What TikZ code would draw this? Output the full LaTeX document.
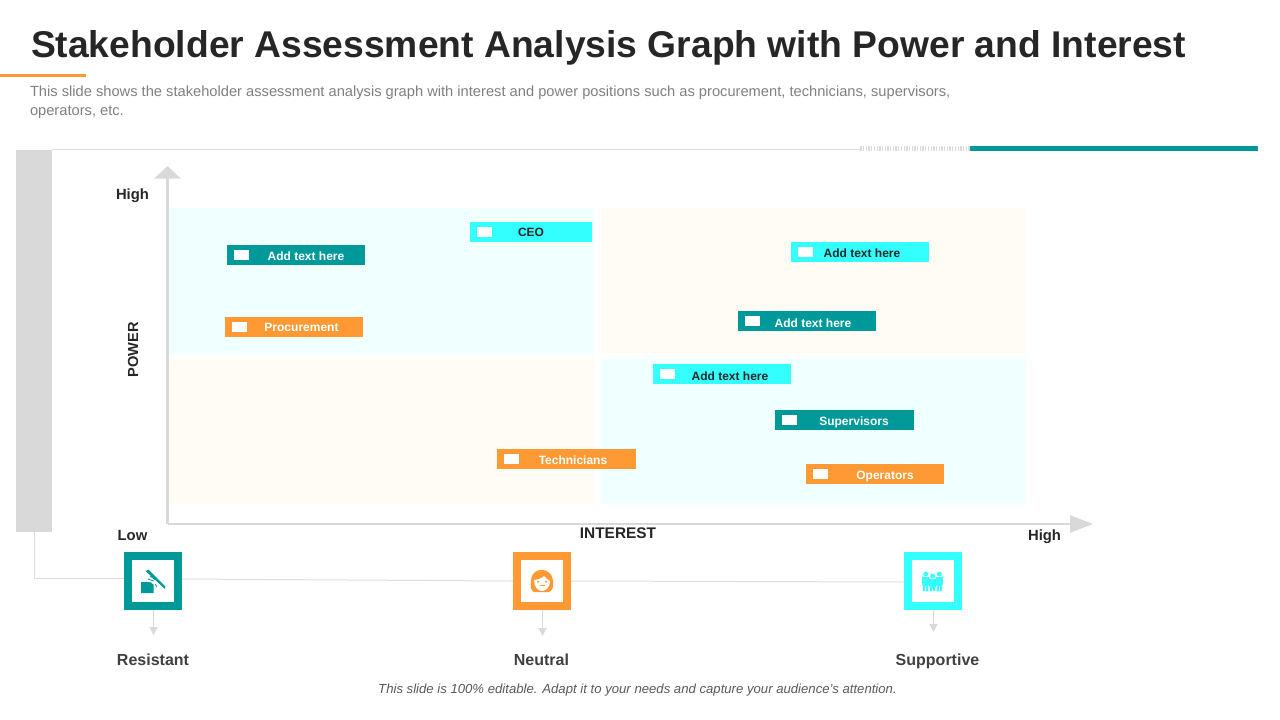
\documentclass[tikz,border=0pt]{standalone}
\usepackage{fontspec}
\setmainfont{Liberation Sans}
\usetikzlibrary{arrows.meta}
\definecolor{teal1}{HTML}{009999}
\definecolor{cyan1}{HTML}{33FFFF}
\definecolor{orange1}{HTML}{FF9933}
\definecolor{axisgray}{HTML}{D9D9D9}
\definecolor{linegray}{HTML}{DEDEDE}
\definecolor{paleblue}{HTML}{F0FFFF}
\definecolor{palecream}{HTML}{FFFBF5}
\definecolor{darktxt}{HTML}{262626}
\newcommand{\fs}[1]{\fontsize{#1}{#1}\selectfont}
\tikzset{
  plain/.style={inner sep=0pt,outer sep=0pt},
  quad/.style={plain,anchor=north west},
  band/.style={plain,anchor=north west,minimum height=20pt},
  swatch/.style={plain,fill=white,minimum width=14.5pt,minimum height=10pt},
  bartext/.style={plain,anchor=base,font=\fs{12}\bfseries},
  axislabel/.style={plain,anchor=base,font=\fs{14.8}\bfseries,text=darktxt},
  stance/.style={plain,anchor=base,font=\fs{16}\bfseries,text=black!75},
  iconbox/.style={plain,anchor=north west,minimum width=50pt,minimum height=50pt,fill=white,line width=8pt,outer sep=4pt},
  conn/.style={draw=linegray,line width=1pt},
  down/.style={draw=axisgray,line width=1.2pt,-{Triangle[length=8pt,width=8pt]}},
}
% name, left x, top y, width, colour, text colour, text x, text baseline y, text
\newcommand{\tagbar}[9]{%
  \node[band,fill=#5,minimum width=#4pt] (#1) at (#2,#3) {};
  \node[swatch] (#1s) at (#2+14.5,#3+10) {};
  \node[bartext,text=#6] (#1t) at (#7,#8) {#9};
}
\begin{document}
\begin{tikzpicture}[x=1pt,y=-1pt]
\useasboundingbox (0,0) rectangle (1280,720);
% title
\node[plain,anchor=base west,font=\fs{37.25}\bfseries,text=darktxt] (title) at (31,57) {Stakeholder Assessment Analysis Graph with Power and Interest};
\fill[orange1] (0,74) rectangle (86,76.5);
\node[plain,anchor=base west,font=\fs{14.68},text=black!50] (sub1) at (30,96.5) {This slide shows the stakeholder assessment analysis graph with interest and power positions such as procurement, technicians, supervisors,};
\node[plain,anchor=base west,font=\fs{14.68},text=black!50] (sub2) at (30,115.5) {operators, etc.};
% top rule
\draw[linegray,line width=1pt] (52,149.5) -- (860,149.5);
\foreach \x in {861,863.7,...,969} \draw[axisgray,line width=1.3pt] (\x,146) -- (\x,151);
\fill[teal1] (970,146) rectangle (1258,151);
% side bar
\node[plain,anchor=north west,fill=axisgray,minimum width=36pt,minimum height=382pt] (side) at (16,150) {};
% quadrants
\node[quad,fill=paleblue,minimum width=426pt,minimum height=146pt] (q1) at (168,208) {};
\node[quad,fill=palecream,minimum width=425pt,minimum height=146pt] (q2) at (601,208) {};
\node[quad,fill=palecream,minimum width=426pt,minimum height=145pt] (q3) at (168,359) {};
\node[quad,fill=paleblue,minimum width=425pt,minimum height=145pt] (q4) at (601,359) {};
% axes
\coordinate (origin) at (167.5,524);
\coordinate (ytip) at (167.5,166);
\coordinate (xtip) at (1093,524);
\draw[axisgray,line width=2.5pt,-{Triangle[length=12.5pt,width=26pt]}] (origin) -- (ytip);
\draw[axisgray,line width=2.5pt,-{Triangle[length=23pt,width=17pt]}] (origin) -- (xtip);
\node[axislabel] (yhigh) at (132.5,199.5) {High};
\node[axislabel] (ylow) at (132.5,540) {Low};
\node[axislabel] (xhigh) at (1044.5,540) {High};
\node[axislabel,font=\fs{15.4}\bfseries] (xlab) at (618,538) {INTEREST};
\node[plain,font=\fs{14.6}\bfseries,text=darktxt,rotate=90] (ylab) at (133,350) {POWER};
% bars
\tagbar{b1}{227}{245}{138}{teal1}{white}{306}{260}{Add text here}
\tagbar{b2}{470}{222}{122}{cyan1}{darktxt}{531}{236}{CEO}
\tagbar{b3}{225}{317}{138}{orange1}{white}{301.5}{331}{Procurement}
\tagbar{b4}{791}{242}{138}{cyan1}{darktxt}{862}{257}{Add text here}
\tagbar{b5}{738}{311}{138}{teal1}{white}{813}{327}{Add text here}
\tagbar{b6}{653}{364}{138}{cyan1}{darktxt}{730}{380}{Add text here}
\tagbar{b7}{775}{410}{139}{teal1}{white}{854}{425}{Supervisors}
\tagbar{b8}{497}{449}{139}{orange1}{white}{573}{464}{Technicians}
\tagbar{b9}{806}{464}{138}{orange1}{white}{885}{479}{Operators}
% icon boxes
\node[iconbox,draw=teal1] (i1) at (124,552) {};
\node[iconbox,draw=orange1] (i2) at (513,552) {};
\node[iconbox,draw=cyan1] (i3) at (904,552) {};
% connectors
\coordinate (corner) at (side.south |- 0,578);
\draw[conn] (side.south) -- (corner) -- (i1.west |- corner);
\draw[conn] (i1.east |- 0,579) -- (i2.west |- 0,581);
\draw[conn] (i2.east |- 0,581) -- (i3.west |- 0,582);
\coordinate (d1) at (153.5,635);
\coordinate (d2) at (542.5,636);
\coordinate (d3) at (933.5,632);
\draw[down] (d1 |- i1.south) -- (d1);
\draw[down] (d2 |- i2.south) -- (d2);
\draw[down] (d3 |- i3.south) -- (d3);
% icon 1: tool and block
\fill[teal1] (141,582) -- (150,582) -- (153.5,584.5) -- (153.5,593) -- (141,593) -- cycle;
\fill[teal1] (145.5,571) -- (148.5,569.5) -- (165,586) -- (165,589) -- cycle;
\draw[teal1,line width=.8pt] (148,579) -- (154,581) (150,576) -- (155,579.5) (155,584) -- (157,587);
% icon 2: face
\fill[orange1] (541.5,570) .. controls (550,570) and (553,577) .. (553,581) .. controls (554,587) and (552,591) .. (549,592) -- (534,592) .. controls (531,591) and (530,586) .. (531,581) .. controls (531,576) and (534,570) .. (541.5,570) -- cycle;
\fill[white] (534,580) .. controls (538,580) and (542,578) .. (544,576) .. controls (546,578) and (548,580) .. (550,581) .. controls (550,587) and (546,591) .. (542,591) .. controls (538,591) and (534,587) .. (534,580) -- cycle;
\fill[orange1] (538,581.7) circle (1.1pt) (546,581.7) circle (1.1pt);
\draw[orange1,line width=.9pt] (539.5,585.5) -- (544.5,585.5);
% icon 3: people
\foreach \px/\py in {925.7/0,932.7/2,939.3/0}{
  \fill[cyan1] (\px,574+\py) circle (2.4pt);
  \fill[cyan1] (\px-3.8,577+\py) -- (\px+3.8,577+\py) -- (\px+3.4,585+\py) -- (\px+2.6,585+\py) -- (\px+2.6,591) -- (\px+.5,591) -- (\px+.5,586+\py) -- (\px-.5,586+\py) -- (\px-.5,591) -- (\px-2.6,591) -- (\px-2.6,585+\py) -- (\px-3.4,585+\py) -- cycle;
}
% stance labels
\node[stance] (s1) at (153,665) {Resistant};
\node[stance] (s2) at (541.5,665) {Neutral};
\node[stance] (s3) at (937.5,665) {Supportive};
% footer
\node[plain,font=\fs{13.15}\itshape,text=black!65] (foot) at (637.5,690) {This slide is 100\% editable. Adapt it to your needs and capture your audience's attention.};
\end{tikzpicture}
\end{document}
